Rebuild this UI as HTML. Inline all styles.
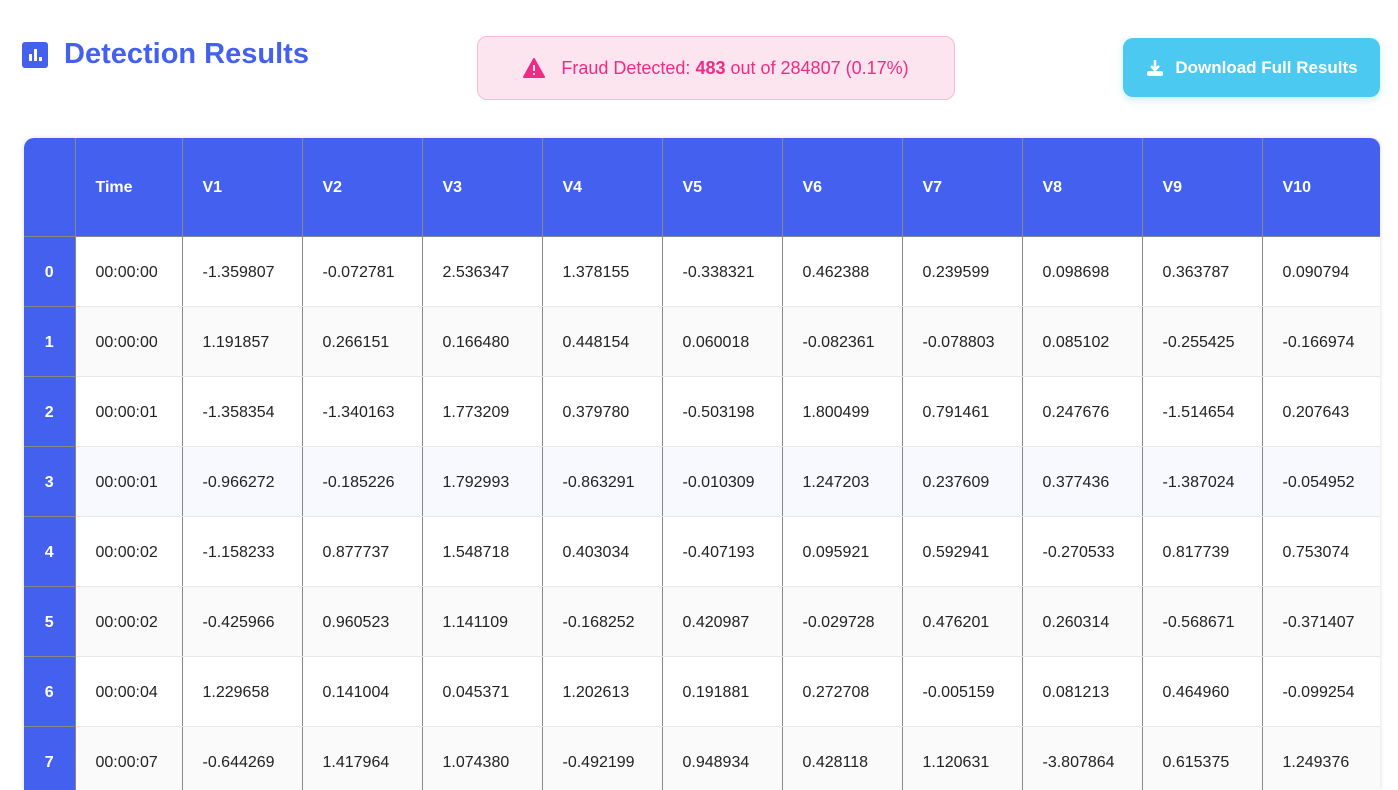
<!DOCTYPE html>
<html><head><meta charset="utf-8">
<style>
html,body{margin:0;padding:0;width:1398px;height:790px;overflow:hidden;background:#fff;font-family:"Liberation Sans",sans-serif;position:relative;}
.title{position:absolute;left:22px;top:38px;display:flex;align-items:center;color:#4361ee;font-weight:bold;font-size:29px;}
.icon{width:26px;height:26px;background:#4361ee;border-radius:3px;position:relative;margin-right:16px;}
.icon i{position:absolute;bottom:7px;background:#fff;width:3px;}
.alert{position:absolute;left:477px;top:36px;width:478px;height:64px;background:#fde5ef;border:1px solid #f9bcd4;border-radius:10px;color:#f02b84;font-size:18px;display:flex;align-items:center;justify-content:center;box-sizing:border-box;}
.btn{position:absolute;left:1123px;top:38px;width:257px;height:59px;background:#4cc9f0;border-radius:10px;color:#fff;font-weight:bold;font-size:17px;display:flex;align-items:center;justify-content:center;box-shadow:0 3px 8px rgba(76,201,240,.3);}
.wrap{position:absolute;left:24px;top:138px;width:1356px;height:652px;overflow:hidden;border-radius:10px 10px 0 0;box-shadow:0 0 4px rgba(0,0,0,.15);}
table{border-collapse:collapse;table-layout:fixed;width:1358px;font-size:16px;color:#222;}
th{background:#4361ee;color:#fff;height:98px;text-align:left;padding:3px 0 0 20px;font-weight:bold;border-left:1px solid #888;border-bottom:1px solid #888;box-sizing:border-box;}
td{height:70px;padding:4px 0 0 20px;border-left:1px solid #888;border-bottom:1px solid #e8e8e8;box-sizing:border-box;}
th:first-child,td:first-child{border-left:none;}
td.idx{background:#4361ee;color:#fff;font-weight:bold;padding-left:0;text-align:center;border-bottom:1px solid #888;}
tr:nth-child(even) td{background:#fafafa;}
tr.hl td{background:#f7f9ff;}
tr td.idx{background:#4361ee;}
</style></head><body>
<div class="title"><div class="icon"><i style="left:7px;height:7px"></i><i style="left:12px;height:12px"></i><i style="left:17px;height:4px"></i></div>Detection Results</div>
<div class="alert"><svg width="22" height="20" viewBox="0 0 22 20" style="margin-right:16px"><path d="M11 1 L21 19 L1 19 Z" fill="#f02b84" stroke="#f02b84" stroke-linejoin="round" stroke-width="2"/><rect x="10" y="7" width="2" height="6" fill="#fde5ef"/><rect x="10" y="15" width="2" height="2" fill="#fde5ef"/></svg><span>Fraud Detected: <b>483</b> out of 284807 (0.17%)</span></div>
<div class="btn"><svg width="20" height="20" viewBox="0 0 20 20" style="margin-right:10px"><path d="M10 2 V12 M6 8 L10 12 L14 8" stroke="#fff" stroke-width="2.5" fill="none"/><rect x="2" y="13" width="16" height="5" rx="2" fill="#fff"/></svg>Download Full Results</div>
<div class="wrap">
<table>
<colgroup><col style="width:51px"><col style="width:107px"><col style="width:120px"><col style="width:120px"><col style="width:120px"><col style="width:120px"><col style="width:120px"><col style="width:120px"><col style="width:120px"><col style="width:120px"><col style="width:120px"><col style="width:120px"></colgroup>
<thead><tr><th></th><th>Time</th><th>V1</th><th>V2</th><th>V3</th><th>V4</th><th>V5</th><th>V6</th><th>V7</th><th>V8</th><th>V9</th><th>V10</th></tr></thead>
<tbody>
<tr><td class="idx">0</td><td>00:00:00</td><td>-1.359807</td><td>-0.072781</td><td>2.536347</td><td>1.378155</td><td>-0.338321</td><td>0.462388</td><td>0.239599</td><td>0.098698</td><td>0.363787</td><td>0.090794</td></tr>
<tr><td class="idx">1</td><td>00:00:00</td><td>1.191857</td><td>0.266151</td><td>0.166480</td><td>0.448154</td><td>0.060018</td><td>-0.082361</td><td>-0.078803</td><td>0.085102</td><td>-0.255425</td><td>-0.166974</td></tr>
<tr><td class="idx">2</td><td>00:00:01</td><td>-1.358354</td><td>-1.340163</td><td>1.773209</td><td>0.379780</td><td>-0.503198</td><td>1.800499</td><td>0.791461</td><td>0.247676</td><td>-1.514654</td><td>0.207643</td></tr>
<tr class="hl"><td class="idx">3</td><td>00:00:01</td><td>-0.966272</td><td>-0.185226</td><td>1.792993</td><td>-0.863291</td><td>-0.010309</td><td>1.247203</td><td>0.237609</td><td>0.377436</td><td>-1.387024</td><td>-0.054952</td></tr>
<tr><td class="idx">4</td><td>00:00:02</td><td>-1.158233</td><td>0.877737</td><td>1.548718</td><td>0.403034</td><td>-0.407193</td><td>0.095921</td><td>0.592941</td><td>-0.270533</td><td>0.817739</td><td>0.753074</td></tr>
<tr><td class="idx">5</td><td>00:00:02</td><td>-0.425966</td><td>0.960523</td><td>1.141109</td><td>-0.168252</td><td>0.420987</td><td>-0.029728</td><td>0.476201</td><td>0.260314</td><td>-0.568671</td><td>-0.371407</td></tr>
<tr><td class="idx">6</td><td>00:00:04</td><td>1.229658</td><td>0.141004</td><td>0.045371</td><td>1.202613</td><td>0.191881</td><td>0.272708</td><td>-0.005159</td><td>0.081213</td><td>0.464960</td><td>-0.099254</td></tr>
<tr><td class="idx">7</td><td>00:00:07</td><td>-0.644269</td><td>1.417964</td><td>1.074380</td><td>-0.492199</td><td>0.948934</td><td>0.428118</td><td>1.120631</td><td>-3.807864</td><td>0.615375</td><td>1.249376</td></tr>
</tbody></table></div>
</body></html>
